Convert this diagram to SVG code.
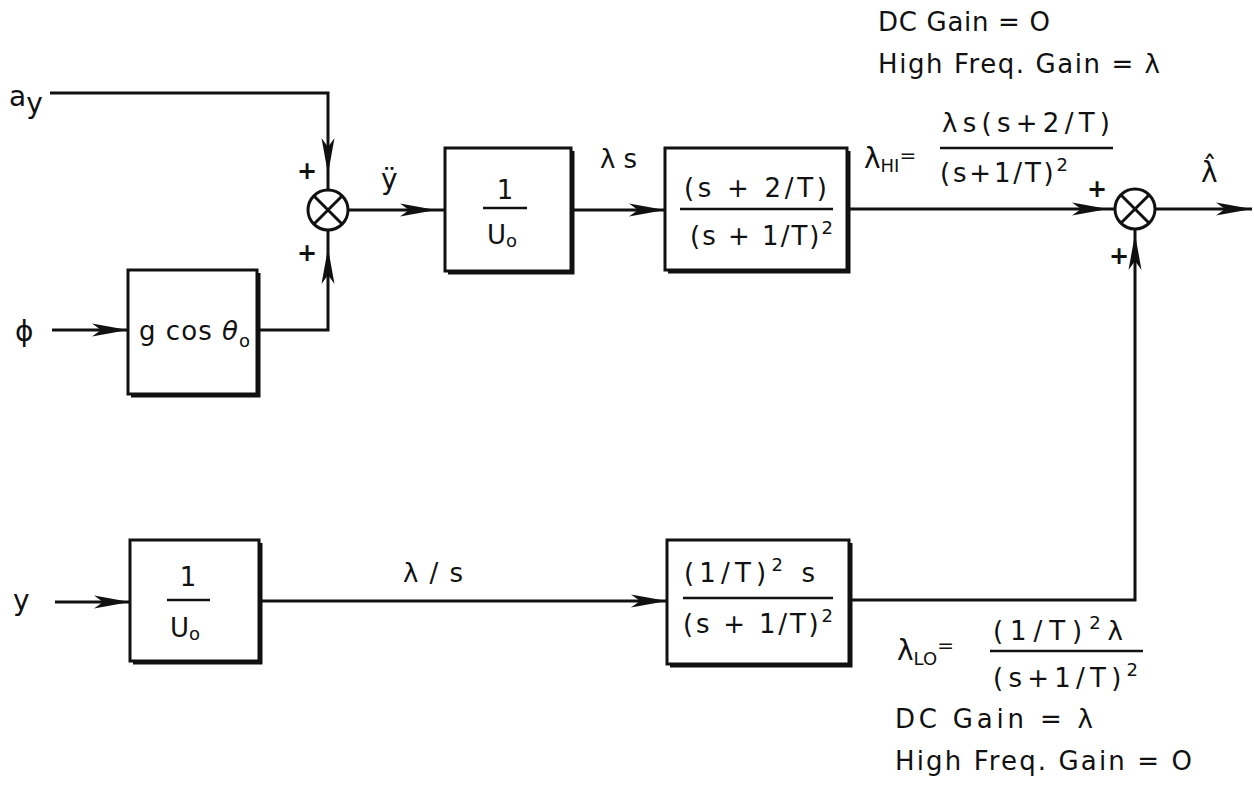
<svg xmlns="http://www.w3.org/2000/svg" xmlns:xlink="http://www.w3.org/1999/xlink" width="1254" height="791" viewBox="0 0 1254 791">
<style>
.bg{fill:#fff}
.box{fill:#fff;stroke:#111;stroke-width:3}
.shadow{fill:none;stroke:#111;stroke-width:3}
.wire{fill:none;stroke:#111;stroke-width:3}
.sum{fill:#fff;stroke:#111;stroke-width:3}
.frac{stroke:#111;stroke-width:2.5}
text{font-family:"DejaVu Sans","Liberation Sans",sans-serif;fill:#111}
.t{font-size:26px}
.big{font-size:28px}
.sub{font-size:18px}
.sup{font-size:18px}
.pm{font-size:24px;font-weight:bold}
.note{font-size:26px}
</style>
<defs>
<path id="arr" d="M0,0 L-36,-6.5 L-27,0 L-36,6.5 Z" fill="#111"/>
</defs>
<rect class="bg" x="0" y="0" width="1254" height="791"/>

<g id="connectors">
  <path class="wire" d="M50,93 H328 V190"/>
  <use xlink:href="#arr" transform="translate(328,174) rotate(90)"/>
  <path class="wire" d="M257,330 H328 V230"/>
  <use xlink:href="#arr" transform="translate(328,248) rotate(-90)"/>
  <path class="wire" d="M52,330 H128"/>
  <use xlink:href="#arr" transform="translate(128,330)"/>
  <path class="wire" d="M348,210 H445"/>
  <use xlink:href="#arr" transform="translate(436,210)"/>
  <path class="wire" d="M572,210 H665"/>
  <use xlink:href="#arr" transform="translate(665,210)"/>
  <path class="wire" d="M848,209 H1115"/>
  <use xlink:href="#arr" transform="translate(1108,209)"/>
  <path class="wire" d="M1155,209 H1252"/>
  <use xlink:href="#arr" transform="translate(1252,209)"/>
  <path class="wire" d="M55,602 H130"/>
  <use xlink:href="#arr" transform="translate(130,602)"/>
  <path class="wire" d="M260,601 H667"/>
  <use xlink:href="#arr" transform="translate(667,601)"/>
  <path class="wire" d="M850,600 H1135 V229"/>
  <use xlink:href="#arr" transform="translate(1135,234) rotate(-90)"/>
</g>

<g id="in_ay">
  <text class="big" x="9" y="106" font-size="30">a<tspan dy="7" font-size="28">y</tspan></text>
</g>
<g id="in_phi">
  <text class="big" x="15" y="341" font-size="30">ϕ</text>
</g>
<g id="in_y">
  <text class="big" x="13" y="610">y</text>
</g>

<g id="gcos">
  <rect class="box" x="128" y="270" width="129" height="124"/>
  <path class="shadow" d="M259,273 V396 H131"/>
  <text class="t" x="139" y="340" textLength="111" lengthAdjust="spacing">g cos <tspan font-style="italic">θ</tspan><tspan class="sub" dy="7">o</tspan></text>
</g>

<g id="sum1">
  <circle class="sum" cx="328" cy="210" r="20"/>
  <path class="wire" d="M314,196 L342,224 M342,196 L314,224"/>
  <text class="pm" x="297" y="179">+</text>
  <text class="pm" x="297" y="261">+</text>
</g>
<text class="big" x="381" y="189">ÿ</text>

<g id="inv_u0_top">
  <rect class="box" x="445" y="148" width="126" height="123"/>
  <path class="shadow" d="M573,151 V273 H448"/>
  <text class="t" x="505" y="199" text-anchor="middle">1</text>
  <line class="frac" x1="483" y1="208" x2="527" y2="208"/>
  <text class="t" x="502" y="244" text-anchor="middle">U<tspan class="sub" dy="3">o</tspan></text>
</g>
<text class="t" x="600" y="168" textLength="37" lengthAdjust="spacing">λs</text>

<g id="hp_filter">
  <rect class="box" x="665" y="148" width="182" height="122"/>
  <path class="shadow" d="M849,151 V272 H668"/>
  <text class="t" x="684" y="197" textLength="143" lengthAdjust="spacing">(s + 2/T)</text>
  <line class="frac" x1="680" y1="209" x2="833" y2="209"/>
  <text class="t" x="690" y="245" textLength="143" lengthAdjust="spacing">(s + 1/T)<tspan class="sup" dy="-11">2</tspan></text>
</g>

<g id="lambda_hi">
  <text class="big" x="864" y="168">λ<tspan class="sub" dy="4">HI</tspan><tspan dy="-10" font-size="20">=</tspan></text>
  <text class="t" x="942" y="132" textLength="168" lengthAdjust="spacing">λs(s+2/T)</text>
  <line class="frac" x1="940" y1="148" x2="1113" y2="148"/>
  <text class="t" x="940" y="182" textLength="128" lengthAdjust="spacing">(s+1/T)<tspan class="sup" dy="-11">2</tspan></text>
</g>
<g id="note_hi">
  <text class="note" x="878" y="31" textLength="172" lengthAdjust="spacing">DC  Gain = O</text>
  <text class="note" x="878" y="73" textLength="282" lengthAdjust="spacing">High Freq. Gain = λ</text>
</g>

<g id="sum2">
  <circle class="sum" cx="1135" cy="209" r="20"/>
  <path class="wire" d="M1121,195 L1149,223 M1149,195 L1121,223"/>
  <text class="pm" x="1087" y="197">+</text>
  <text class="pm" x="1109" y="264">+</text>
</g>
<text class="big" x="1201" y="182">λ̂</text>

<g id="inv_u0_bottom">
  <rect class="box" x="130" y="540" width="129" height="121"/>
  <path class="shadow" d="M261,543 V663 H133"/>
  <text class="t" x="188" y="586" text-anchor="middle">1</text>
  <line class="frac" x1="167" y1="600" x2="210" y2="600"/>
  <text class="t" x="185" y="637" text-anchor="middle">U<tspan class="sub" dy="3">o</tspan></text>
</g>
<text class="t" x="403" y="582" textLength="60" lengthAdjust="spacing">λ/s</text>

<g id="lp_filter">
  <rect class="box" x="667" y="540" width="182" height="124"/>
  <path class="shadow" d="M851,543 V666 H670"/>
  <text class="t" x="684" y="582" textLength="131" lengthAdjust="spacing">(1/T)<tspan class="sup" dy="-11">2</tspan><tspan dy="11"> s</tspan></text>
  <line class="frac" x1="683" y1="598" x2="833" y2="598"/>
  <text class="t" x="683" y="633" textLength="150" lengthAdjust="spacing">(s + 1/T)<tspan class="sup" dy="-11">2</tspan></text>
</g>

<g id="lambda_lo">
  <text class="big" x="897" y="660">λ<tspan class="sub" dy="5">LO</tspan><tspan dy="-13" font-size="20">=</tspan></text>
  <text class="t" x="993" y="640" textLength="130" lengthAdjust="spacing">(1/T)<tspan class="sup" dy="-11">2</tspan><tspan dy="11">λ</tspan></text>
  <line class="frac" x1="990" y1="651" x2="1143" y2="651"/>
  <text class="t" x="993" y="687" textLength="145" lengthAdjust="spacing">(s+1/T)<tspan class="sup" dy="-11">2</tspan></text>
</g>
<g id="note_lo">
  <text class="note" x="895" y="728" textLength="198" lengthAdjust="spacing">DC  Gain  =  λ</text>
  <text class="note" x="895" y="770" textLength="297" lengthAdjust="spacing">High  Freq. Gain = O</text>
</g>
</svg>
